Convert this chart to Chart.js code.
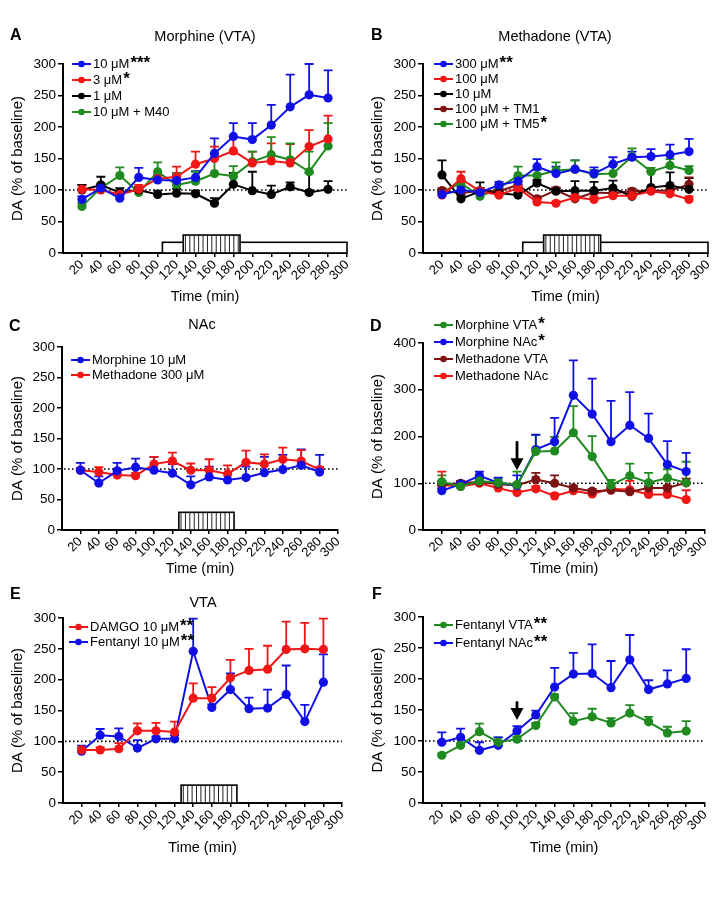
<!DOCTYPE html>
<html>
<head>
<meta charset="utf-8">
<script src="https://cdn.jsdelivr.net/npm/chart.js@4"></script>
<style>
  body { margin: 0; background: #fff; }
  #wrap { position: relative; width: 723px; height: 919px; }
  canvas { position: absolute; }
</style>
</head>
<body>
<div id="wrap">
  <canvas id="panelA" style="left:0;top:0" width="360" height="312"></canvas>
  <canvas id="panelB" style="left:360px;top:0" width="363" height="312"></canvas>
  <canvas id="panelC" style="left:0;top:312px" width="360" height="272"></canvas>
  <canvas id="panelD" style="left:360px;top:312px" width="363" height="272"></canvas>
  <canvas id="panelE" style="left:0;top:584px" width="360" height="280"></canvas>
  <canvas id="panelF" style="left:360px;top:584px" width="363" height="280"></canvas>
</div>
<script>
// sample times and x tick labels
const times = [20, 40, 60, 80, 100, 120, 140, 160, 180, 200, 220, 240, 260, 280];
const xTicks = [20, 40, 60, 80, 100, 120, 140, 160, 180, 200, 220, 240, 260, 280, 300];

// A - Morphine (VTA): means and upper SEM
const morA10 = [85, 103, 87, 120, 116, 115, 120, 158, 185, 180, 203, 232, 251, 246];
const morA10Sem = [5, 5, 3, 15, 8, 8, 10, 24, 21, 26, 32, 51, 49, 44];
const morA3 = [101, 100, 93, 101, 118, 121, 141, 150, 162, 143, 146, 143, 169, 181];
const morA3Sem = [7, 5, 5, 7, 5, 16, 20, 19, 23, 18, 28, 30, 26, 37];
const morA1 = [100, 108, 96, 100, 93, 95, 94, 79, 109, 99, 93, 105, 96, 101];
const morA1Sem = [8, 13, 7, 5, 6, 7, 5, 8, 18, 30, 14, 7, 31, 13];
const morAM40 = [74, 103, 123, 96, 129, 108, 114, 126, 122, 145, 156, 148, 129, 170];
const morAM40Sem = [5, 8, 13, 5, 15, 19, 15, 32, 16, 16, 28, 26, 32, 36];

// B - Methadone (VTA)
const metB300 = [93, 100, 96, 108, 114, 137, 126, 133, 126, 141, 152, 153, 156, 161];
const metB300Sem = [3, 5, 5, 5, 6, 12, 11, 14, 10, 11, 9, 12, 16, 20];
const metB100 = [92, 118, 98, 92, 103, 81, 79, 88, 85, 91, 91, 98, 94, 85];
const metB100Sem = [5, 11, 5, 5, 5, 5, 3, 4, 4, 4, 4, 7, 6, 5];
const metB10 = [124, 86, 98, 95, 92, 111, 98, 99, 99, 103, 90, 104, 107, 101];
const metB10Sem = [23, 5, 14, 5, 4, 5, 5, 15, 14, 12, 4, 26, 21, 18];
const metBTM1 = [99, 95, 99, 98, 108, 86, 100, 86, 96, 95, 98, 99, 99, 109];
const metBTM1Sem = [4, 4, 4, 4, 5, 4, 4, 4, 4, 4, 4, 4, 4, 11];
const metBTM5 = [97, 111, 90, 103, 123, 123, 131, 133, 125, 126, 153, 129, 139, 131];
const metBTM5Sem = [4, 5, 4, 5, 14, 9, 13, 14, 7, 14, 13, 6, 10, 7];

// C - NAc
const nacMor = [98, 77, 97, 103, 98, 93, 74, 87, 82, 86, 94, 99, 106, 95];
const nacMorSem = [12, 11, 13, 14, 22, 15, 14, 17, 11, 18, 26, 24, 26, 28];
const nacMet = [98, 95, 90, 89, 108, 113, 98, 98, 92, 111, 108, 116, 113, 99];
const nacMetSem = [4, 8, 4, 4, 12, 14, 11, 18, 14, 19, 16, 19, 18, 4];

// D - systemic
const dMorVta = [103, 93, 105, 101, 97, 168, 169, 208, 157, 96, 116, 101, 111, 101];
const dMorVtaSem = [14, 5, 5, 9, 28, 35, 30, 57, 44, 11, 26, 21, 19, 45];
const dMorNac = [84, 98, 116, 101, 95, 172, 189, 288, 248, 189, 224, 196, 140, 125];
const dMorNacSem = [5, 6, 9, 11, 22, 32, 51, 75, 76, 87, 71, 53, 50, 40];
const dMetVta = [97, 100, 103, 98, 96, 108, 100, 90, 83, 85, 82, 90, 90, 101];
const dMetVtaSem = [8, 5, 4, 4, 4, 14, 17, 5, 5, 5, 5, 5, 5, 9];
const dMetNac = [97, 93, 100, 90, 80, 88, 73, 84, 77, 88, 86, 76, 76, 65];
const dMetNacSem = [28, 5, 4, 4, 4, 5, 5, 4, 4, 4, 19, 5, 5, 20];

// E - VTA
const eDamgo = [86, 86, 88, 117, 117, 115, 170, 170, 203, 215, 217, 249, 250, 249];
const eDamgoSem = [4, 4, 9, 12, 13, 17, 24, 18, 29, 35, 38, 45, 42, 50];
const eFent = [84, 110, 108, 89, 104, 104, 246, 155, 184, 153, 154, 176, 132, 196];
const eFentSem = [9, 10, 13, 13, 4, 6, 53, 5, 26, 18, 30, 47, 27, 45];

// F - systemic fentanyl
const fFentVta = [77, 93, 115, 98, 103, 125, 171, 132, 139, 129, 145, 131, 113, 116];
const fFentVtaSem = [3, 3, 13, 8, 4, 4, 4, 13, 13, 8, 13, 8, 10, 16];
const fFentNac = [98, 106, 85, 93, 116, 142, 187, 208, 209, 186, 231, 183, 192, 201];
const fFentNacSem = [16, 14, 13, 13, 8, 7, 31, 34, 47, 43, 40, 15, 22, 47];

// perfusion windows (min) and injection time
const perfusion = [105, 300];
const drugWindow = [127, 187];
const injectTime = 100;

const BLUE = '#1010e6', RED = '#f01616', BLACK = '#000', GREEN = '#1f8a1f', DKRED = '#7c1212';
const FONT = '"Liberation Sans", Arial, sans-serif';

const panelDeco = {
  id: 'panelDeco',
  beforeDatasetsDraw(chart, args, o) {
    const { ctx, chartArea: a, scales: { x, y } } = chart;
    ctx.save();
    // baseline
    const y100 = y.getPixelForValue(100);
    ctx.strokeStyle = '#000';
    ctx.lineWidth = 1.6;
    ctx.setLineDash([1.6, 2.4]);
    ctx.beginPath();
    ctx.moveTo(a.left + 2, y100);
    ctx.lineTo(a.right, y100);
    ctx.stroke();
    ctx.setLineDash([]);

    // drug boxes
    const y0 = y.getPixelForValue(0);
    (o.boxes || []).forEach(b => {
      const l = x.getPixelForValue(b.from), r = x.getPixelForValue(b.to);
      const t = y.getPixelForValue(b.h);
      ctx.fillStyle = '#fff';
      ctx.fillRect(l, t, r - l, y0 - t);
      if (b.hatch) {
        ctx.strokeStyle = '#222';
        ctx.lineWidth = 1;
        for (let px = l + 2.2; px < r - 1; px += 4.4) {
          ctx.beginPath();
          ctx.moveTo(px, t);
          ctx.lineTo(px, y0);
          ctx.stroke();
        }
      }
      ctx.strokeStyle = '#000';
      ctx.lineWidth = 1.6;
      ctx.strokeRect(l, t, r - l, y0 - t);
    });

    // upper error bars
    chart.data.datasets.forEach((ds, i) => {
      const meta = chart.getDatasetMeta(i);
      ctx.strokeStyle = ds.borderColor;
      ctx.lineWidth = 1.8;
      meta.data.forEach((pt, j) => {
        const top = y.getPixelForValue(ds.data[j].y + ds.sem[j]);
        ctx.beginPath();
        ctx.moveTo(pt.x, pt.y);
        ctx.lineTo(pt.x, top);
        ctx.moveTo(pt.x - 4.5, top);
        ctx.lineTo(pt.x + 4.5, top);
        ctx.stroke();
      });
    });
    ctx.restore();
  },
  afterDraw(chart, args, o) {
    const { ctx, scales: { x, y } } = chart;
    ctx.save();
    ctx.fillStyle = '#000';
    ctx.textBaseline = 'alphabetic';
    // panel letter
    ctx.font = 'bold 16px ' + FONT;
    ctx.textAlign = 'left';
    ctx.fillText(o.letter, o.letterX, o.letterY);
    // panel title
    if (o.title) {
      ctx.font = '14.5px ' + FONT;
      ctx.textAlign = 'center';
      ctx.fillText(o.title, o.titleX, o.titleY);
    }
    // legend: line with a dot, label, bold stars
    const lg = o.legend;
    chart.data.datasets.forEach((ds, i) => {
      const ly = lg.y + i * lg.dy;
      ctx.strokeStyle = ds.borderColor;
      ctx.fillStyle = ds.borderColor;
      ctx.lineWidth = 2;
      ctx.beginPath();
      ctx.moveTo(lg.x, ly);
      ctx.lineTo(lg.x + 19, ly);
      ctx.stroke();
      ctx.beginPath();
      ctx.arc(lg.x + 9.5, ly, 3.3, 0, Math.PI * 2);
      ctx.fill();
      ctx.fillStyle = '#000';
      ctx.font = '13px ' + FONT;
      ctx.textAlign = 'left';
      ctx.textBaseline = 'middle';
      ctx.fillText(ds.label, lg.x + 21, ly + 0.5);
      if (ds.stars) {
        const w = ctx.measureText(ds.label).width;
        ctx.font = 'bold 17px ' + FONT;
        ctx.fillText(ds.stars, lg.x + 22 + w, ly - 1);
      }
    });
    // injection arrow
    if (o.arrow) {
      const ax = x.getPixelForValue(o.arrow.at);
      const top = y.getPixelForValue(o.arrow.from), tip = y.getPixelForValue(o.arrow.to);
      ctx.strokeStyle = '#000';
      ctx.fillStyle = '#000';
      ctx.lineWidth = 2.8;
      ctx.beginPath();
      ctx.moveTo(ax, top);
      ctx.lineTo(ax, tip - 8);
      ctx.stroke();
      ctx.beginPath();
      ctx.moveTo(ax - 6.5, tip - 12);
      ctx.lineTo(ax + 6.5, tip - 12);
      ctx.lineTo(ax, tip);
      ctx.closePath();
      ctx.fill();
    }
    ctx.restore();
  }
};

function makePanel(id, p) {
  const datasets = p.series.map(s => ({
    label: s.label,
    stars: s.stars,
    data: times.map((t, i) => ({ x: t, y: s.mean[i] })),
    sem: s.sem,
    borderColor: s.color,
    backgroundColor: s.color,
    borderWidth: 2,
    pointRadius: 4.6,
    pointBorderWidth: 0,
    pointHoverRadius: 4.6,
    tension: 0,
    clip: false
  }));
  new Chart(document.getElementById(id).getContext('2d'), {
    type: 'line',
    data: { datasets },
    options: {
      responsive: false,
      animation: false,
      events: [],
      layout: { autoPadding: false, padding: p.padding },
      scales: {
        x: {
          type: 'linear',
          min: 0,
          max: 300,
          afterBuildTicks: s => { s.ticks = xTicks.map(v => ({ value: v })); },
          afterFit: s => { s.height = p.xAxisH; s.paddingLeft = 0; s.paddingRight = 0; },
          ticks: { minRotation: 45, maxRotation: 45, autoSkip: false, color: '#000', padding: 0, font: { family: FONT, size: 13 } },
          grid: { drawOnChartArea: false, tickLength: 4, color: '#000', lineWidth: 1.5 },
          border: { color: '#000', width: 2 },
          title: { display: true, text: 'Time (min)', color: '#000', font: { family: FONT, size: 14.5 }, padding: { top: 0, bottom: 4 } }
        },
        y: {
          min: 0,
          max: p.yMax,
          afterFit: s => { s.width = p.yAxisW; s.paddingTop = 0; s.paddingBottom = 0; },
          ticks: { stepSize: p.yStep, color: '#000', padding: 2, font: { family: FONT, size: 13.5 } },
          grid: { drawOnChartArea: false, tickLength: 5, color: '#000', lineWidth: 1.5 },
          border: { color: '#000', width: 2 },
          title: { display: true, text: 'DA (% of baseline)', color: '#000', font: { family: FONT, size: 15 }, padding: { top: 4, bottom: 0 } }
        }
      },
      plugins: {
        legend: { display: false },
        tooltip: { enabled: false },
        panelDeco: p.deco
      }
    },
    plugins: [panelDeco]
  });
}

const vtaBoxes = [
  { from: perfusion[0], to: perfusion[1], h: 17 },
  { from: drugWindow[0], to: drugWindow[1], h: 28.5, hatch: true }
];
const drugOnly = [{ from: drugWindow[0], to: drugWindow[1], h: 29, hatch: true }];

makePanel('panelA', {
  padding: { left: 5, top: 64, right: 13, bottom: 2 }, yAxisW: 58, xAxisH: 57, yMax: 300, yStep: 50,
  series: [
    { label: '10 μM', stars: '***', mean: morA10, sem: morA10Sem, color: BLUE },
    { label: '3 μM', stars: '*', mean: morA3, sem: morA3Sem, color: RED },
    { label: '1 μM', mean: morA1, sem: morA1Sem, color: BLACK },
    { label: '10 μM + M40', mean: morAM40, sem: morAM40Sem, color: GREEN }
  ],
  deco: { letter: 'A', letterX: 10, letterY: 40, title: 'Morphine (VTA)', titleX: 205, titleY: 41,
    legend: { x: 72, y: 64, dy: 16 }, boxes: vtaBoxes }
});

makePanel('panelB', {
  padding: { left: 5, top: 64, right: 15, bottom: 2 }, yAxisW: 58, xAxisH: 57, yMax: 300, yStep: 50,
  series: [
    { label: '300 μM', stars: '**', mean: metB300, sem: metB300Sem, color: BLUE },
    { label: '100 μM', mean: metB100, sem: metB100Sem, color: RED },
    { label: '10 μM', mean: metB10, sem: metB10Sem, color: BLACK },
    { label: '100 μM + TM1', mean: metBTM1, sem: metBTM1Sem, color: DKRED },
    { label: '100 μM + TM5', stars: '*', mean: metBTM5, sem: metBTM5Sem, color: GREEN }
  ],
  deco: { letter: 'B', letterX: 11, letterY: 40, title: 'Methadone (VTA)', titleX: 195, titleY: 41,
    legend: { x: 74, y: 64, dy: 15 }, boxes: vtaBoxes }
});

makePanel('panelC', {
  padding: { left: 5, top: 35, right: 22, bottom: 2 }, yAxisW: 57, xAxisH: 52, yMax: 300, yStep: 50,
  series: [
    { label: 'Morphine 10 μM', mean: nacMor, sem: nacMorSem, color: BLUE },
    { label: 'Methadone 300 μM', mean: nacMet, sem: nacMetSem, color: RED }
  ],
  deco: { letter: 'C', letterX: 9, letterY: 19, title: 'NAc', titleX: 202, titleY: 17,
    legend: { x: 71, y: 48, dy: 15 }, boxes: drugOnly }
});

makePanel('panelD', {
  padding: { left: 5, top: 31, right: 18, bottom: 2 }, yAxisW: 58, xAxisH: 52, yMax: 400, yStep: 100,
  series: [
    { label: 'Morphine VTA', stars: '*', mean: dMorVta, sem: dMorVtaSem, color: GREEN },
    { label: 'Morphine NAc', stars: '*', mean: dMorNac, sem: dMorNacSem, color: BLUE },
    { label: 'Methadone VTA', mean: dMetVta, sem: dMetVtaSem, color: DKRED },
    { label: 'Methadone NAc', mean: dMetNac, sem: dMetNacSem, color: RED }
  ],
  deco: { letter: 'D', letterX: 10, letterY: 19,
    legend: { x: 74, y: 13, dy: 17 }, arrow: { at: injectTime, from: 190, to: 128 } }
});

makePanel('panelE', {
  padding: { left: 5, top: 34, right: 18, bottom: 3 }, yAxisW: 58, xAxisH: 58, yMax: 300, yStep: 50,
  series: [
    { label: 'DAMGO 10 μM', stars: '**', mean: eDamgo, sem: eDamgoSem, color: RED },
    { label: 'Fentanyl 10 μM', stars: '**', mean: eFent, sem: eFentSem, color: BLUE }
  ],
  deco: { letter: 'E', letterX: 10, letterY: 15, title: 'VTA', titleX: 203, titleY: 23,
    legend: { x: 69, y: 43, dy: 15 }, boxes: drugOnly }
});

makePanel('panelF', {
  padding: { left: 5, top: 33, right: 18, bottom: 3 }, yAxisW: 58, xAxisH: 58, yMax: 300, yStep: 50,
  series: [
    { label: 'Fentanyl VTA', stars: '**', mean: fFentVta, sem: fFentVtaSem, color: GREEN },
    { label: 'Fentanyl NAc', stars: '**', mean: fFentNac, sem: fFentNacSem, color: BLUE }
  ],
  deco: { letter: 'F', letterX: 12, letterY: 15,
    legend: { x: 74, y: 41, dy: 18 }, arrow: { at: injectTime, from: 164, to: 134 } }
});
</script>
</body>
</html>
